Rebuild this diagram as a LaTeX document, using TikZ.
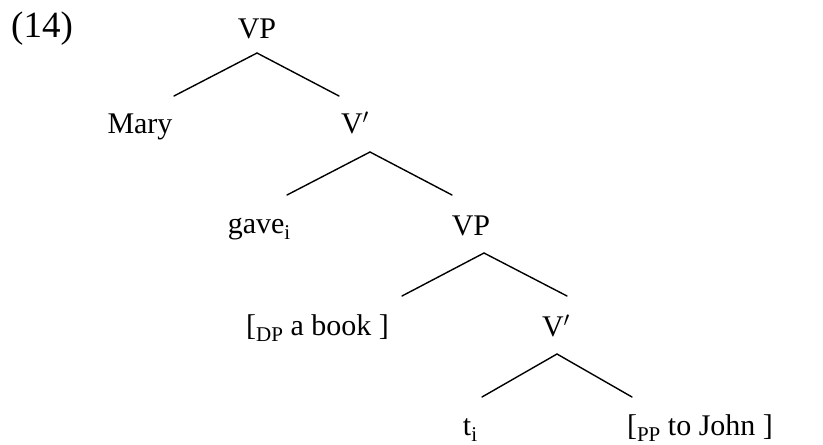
\documentclass[tikz,border=0pt]{standalone}
\usepackage{fontspec}
\setmainfont{Liberation Serif}
\newcommand\sbs[1]{\raisebox{-6pt}{\fontsize{21}{24}\selectfont #1}}
\begin{document}
\begin{tikzpicture}[x=1pt,y=-1pt,
  lab/.style={anchor=base,inner sep=0pt,font=\fontsize{30}{36}\selectfont},
  edge/.style={line width=1.4pt,line cap=round,line join=miter}]
\useasboundingbox (0,0) rectangle (823,445);
% label
\node[anchor=base west,inner sep=0pt,font=\fontsize{37}{40}\selectfont] (num) at (11,37) {(14)};
% nodes
\node[lab] (vp1) at (257,38) {VP};
\node[lab] (mary) at (140,133) {Mary};
\node[lab] (vb1) at (355,133) {V$'$};
\node[lab] (gave) at (259,233) {gave\sbs{i}};
\node[lab] (vp2) at (471,235) {VP};
\node[lab] (dp) at (317.5,335) {[\sbs{DP} a book ]};
\node[lab] (vb2) at (556,336) {V$'$};
\node[lab] (t) at (470,435) {t\sbs{i}};
\node[lab] (pp) at (700,435) {[\sbs{PP} to John ]};
% branch points
\coordinate (a1) at (257,53);  \coordinate (l1) at (174,96);  \coordinate (r1) at (339,96);
\coordinate (a2) at (370,152); \coordinate (l2) at (287,195); \coordinate (r2) at (452,195);
\coordinate (a3) at (484,253); \coordinate (l3) at (402,296); \coordinate (r3) at (567,296);
\coordinate (a4) at (557,354); \coordinate (l4) at (482,397); \coordinate (r4) at (632,397);
\draw[edge] (l1) -- (a1) -- (r1);
\draw[edge] (l2) -- (a2) -- (r2);
\draw[edge] (l3) -- (a3) -- (r3);
\draw[edge] (l4) -- (a4) -- (r4);
\end{tikzpicture}
\end{document}
